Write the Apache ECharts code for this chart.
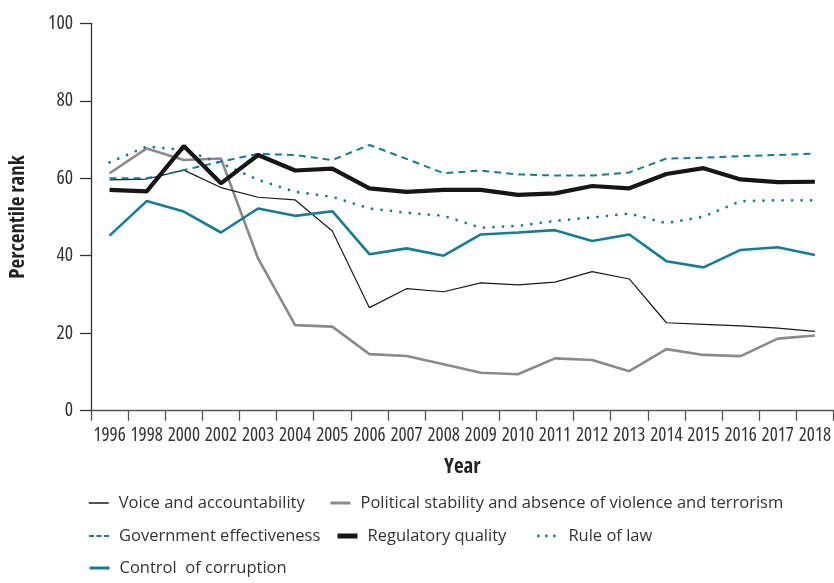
<!DOCTYPE html>
<html>
<head>
<meta charset="utf-8">
<script src="https://cdn.jsdelivr.net/npm/echarts@6/dist/echarts.min.js"></script>
<style>
html,body{margin:0;padding:0;background:#fff;}
#c{width:834px;height:583px;}
</style>
</head>
<body>
<div id="c"></div>
<script>
const years = ['1996','1998','2000','2002','2003','2004','2005','2006','2007','2008','2009','2010','2011','2012','2013','2014','2015','2016','2017','2018'];
const yTicks = [0, 20, 40, 60, 80, 100];

const voiceAccountability = [59.6, 59.8, 62.1, 57.6, 55.1, 54.4, 46.4, 26.6, 31.5, 30.7, 33.0, 32.5, 33.2, 35.9, 34.0, 22.7, 22.3, 21.9, 21.3, 20.5];
const politicalStability  = [61.3, 67.7, 64.7, 65.1, 39.3, 22.1, 21.7, 14.6, 14.1, 12.0, 9.8, 9.4, 13.5, 13.1, 10.2, 15.9, 14.4, 14.1, 18.6, 19.4];
const govEffectiveness    = [60.0, 60.0, 62.1, 64.3, 66.3, 66.0, 64.7, 68.6, 65.0, 61.3, 62.0, 61.0, 60.7, 60.7, 61.5, 65.1, 65.3, 65.7, 66.0, 66.4];
const regulatoryQuality   = [57.0, 56.6, 68.3, 58.7, 66.0, 62.0, 62.5, 57.4, 56.5, 57.0, 57.0, 55.7, 56.1, 58.0, 57.4, 61.1, 62.6, 59.7, 59.0, 59.1];
const ruleOfLaw           = [64.1, 68.2, 67.3, 63.9, 59.6, 56.5, 55.2, 52.2, 51.1, 50.3, 47.2, 47.7, 49.0, 49.9, 50.9, 48.4, 50.1, 54.1, 54.3, 54.3];
const controlCorruption   = [45.2, 54.1, 51.4, 46.0, 52.2, 50.3, 51.5, 40.4, 41.9, 40.0, 45.5, 46.0, 46.6, 43.8, 45.5, 38.6, 37.0, 41.5, 42.2, 40.2];

const TEAL = '#137d93';
const FONT = '"Open Sans", "Noto Sans", sans-serif';
const COND = 'normal condensed';

const chart = echarts.init(document.getElementById('c'), null, {renderer: 'canvas'});

function legendAt(name, left, top, lineStyle) {
  return {
    data: [name], left: left, top: top, orient: 'horizontal',
    itemWidth: 20, itemHeight: 14, itemGap: 6, padding: 0,
    itemStyle: {opacity: 0},
    lineStyle: lineStyle,
    textStyle: {fontFamily: FONT, fontSize: 16.5, color: '#333', lineHeight: 20, padding: [0, 0, 0, 5]},
    selectedMode: false
  };
}

const option = {
  animation: false,
  backgroundColor: '#fff',
  grid: {left: 89.5, right: 0.5, top: 23.3, bottom: 172.3, containLabel: false},
  xAxis: {
    type: 'category', data: years, boundaryGap: true,
    name: 'Year', nameLocation: 'middle', nameGap: 46,
    nameTextStyle: {fontFamily: FONT, fontSize: 21, fontWeight: 'bold condensed', color: '#222'},
    axisLine: {lineStyle: {color: '#555', width: 1.3}},
    axisTick: {show: true, alignWithLabel: false, length: 10, lineStyle: {color: '#555', width: 1.3}},
    axisLabel: {fontFamily: FONT, fontSize: 19, fontWeight: COND, color: '#333', interval: 0, margin: 15}
  },
  yAxis: {
    type: 'value', min: 0, max: 100, interval: 20,
    name: 'Percentile rank', nameLocation: 'middle', nameGap: 62, nameRotate: 90,
    nameTextStyle: {fontFamily: FONT, fontSize: 21, fontWeight: 'bold condensed', color: '#222'},
    axisLine: {show: true, lineStyle: {color: '#333', width: 1.3}},
    axisTick: {show: true, length: 11, lineStyle: {color: '#333', width: 1.3}},
    splitLine: {show: false},
    axisLabel: {fontFamily: FONT, fontSize: 19.5, fontWeight: COND, color: '#333', margin: 18,
      formatter: v => yTicks.includes(v) ? String(v) : ''}
  },
  legend: [
    legendAt('Voice and accountability', 88, 493, {width: 1.5}),
    legendAt('Political stability and absence of violence and terrorism', 329, 493, {width: 3}),
    legendAt('Government effectiveness', 88, 526, {width: 2, type: [5, 2.5]}),
    legendAt('Regulatory quality', 335, 526, {width: 5}),
    legendAt('Rule of law', 537, 526, {width: 2.8, type: [0.01, 8], cap: 'round'}),
    legendAt('Control  of corruption', 88, 558, {width: 3})
  ],
  series: [
    {name: 'Voice and accountability', type: 'line', data: voiceAccountability, symbol: 'none', z: 3,
      lineStyle: {color: '#1a1a1a', width: 1.2}, itemStyle: {color: '#1a1a1a'}},
    {name: 'Political stability and absence of violence and terrorism', type: 'line', data: politicalStability, symbol: 'none', z: 2,
      lineStyle: {color: '#8a8a8a', width: 2.6}, itemStyle: {color: '#8a8a8a'}},
    {name: 'Government effectiveness', type: 'line', data: govEffectiveness, symbol: 'none', z: 4,
      lineStyle: {color: TEAL, width: 2, type: [7, 5]}, itemStyle: {color: TEAL}},
    {name: 'Regulatory quality', type: 'line', data: regulatoryQuality, symbol: 'none', z: 5,
      lineStyle: {color: '#161616', width: 4.2}, itemStyle: {color: '#161616'}},
    {name: 'Rule of law', type: 'line', data: ruleOfLaw, symbol: 'none', z: 4,
      lineStyle: {color: TEAL, width: 2.8, type: [0.01, 9.5], cap: 'round'}, itemStyle: {color: TEAL}},
    {name: 'Control  of corruption', type: 'line', data: controlCorruption, symbol: 'none', z: 4,
      lineStyle: {color: TEAL, width: 2.6}, itemStyle: {color: TEAL}}
  ]
};
chart.setOption(option);
</script>
</body>
</html>
